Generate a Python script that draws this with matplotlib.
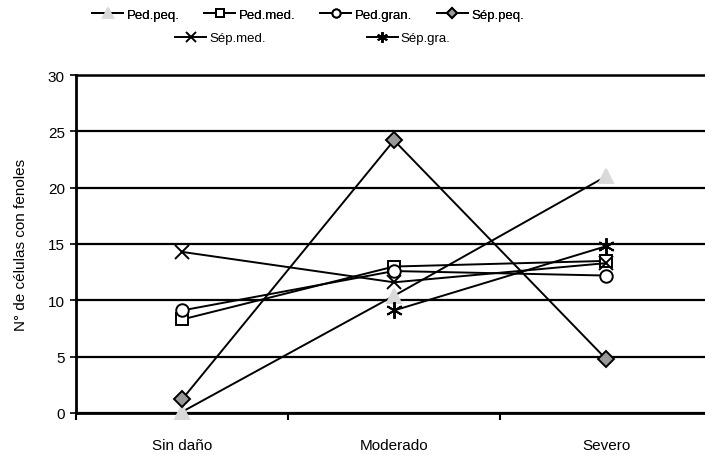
import numpy as np
import matplotlib.pyplot as plt

plt.rcParams['font.family'] = ['Liberation Sans', 'DejaVu Sans']

# datos
categorias = ["Sin daño", "Moderado", "Severo"]
ped_peq = [0.1, 10.4, 21.0]
ped_med = [8.3, 13.0, 13.5]
ped_gran = [9.1, 12.6, 12.2]
sep_peq = [1.2, 24.2, 4.8]
sep_med = [14.3, 11.6, 13.3]
sep_gra = [np.nan, 9.1, 14.8]

series = [
    ("Ped.peq.", ped_peq, dict(marker='^', mfc='#d9d9d9', mec='#d9d9d9', ms=10)),
    ("Ped.med.", ped_med, dict(marker='s', mfc='white', mec='black', ms=9)),
    ("Ped.gran.", ped_gran, dict(marker='o', mfc='white', mec='black', ms=9)),
    ("Sép.peq.", sep_peq, dict(marker='D', mfc='#999999', mec='black', ms=8)),
    ("Sép.med.", sep_med, dict(marker='x', mfc='black', mec='black', ms=10)),
    ("Sép.gra.", sep_gra, dict(marker=(6, 2, 0), mfc='black', mec='black', ms=12)),
]

fig = plt.figure(figsize=(7.05, 4.56), dpi=100)
ax = fig.add_axes([76 / 705, 42 / 456, 636 / 705, 338 / 456])

x = np.arange(len(categorias))
handles = []
for nombre, vals, st in series:
    h, = ax.plot(x, vals, color='black', lw=1.4, mew=1.4, label=nombre,
                 clip_on=False, zorder=3, **st)
    handles.append(h)

ax.set_xlim(-0.5, 2.5)
ax.set_ylim(0, 30)
ax.set_yticks(np.arange(0, 31, 5))
ax.set_xticks(x)
ax.set_xticklabels(categorias, fontsize=11)
ax.set_xticks([-0.5, 0.5, 1.5], minor=True)
ax.tick_params(axis='x', which='major', length=0, pad=18)
ax.tick_params(axis='x', which='minor', length=5, width=1.5, direction='out')
ax.tick_params(axis='y', length=4, width=1.2, direction='out', labelsize=11, pad=4)

ax.yaxis.grid(True, color='black', lw=1.6)
ax.set_axisbelow(True)
ax.spines['right'].set_visible(False)
ax.spines['top'].set_linewidth(1.8)
ax.spines['left'].set_linewidth(2)
ax.spines['bottom'].set_linewidth(2)

ax.set_ylabel("N° de células con fenoles", fontsize=11, labelpad=14)

leg1 = fig.legend(handles[:4], [h.get_label() for h in handles[:4]], ncol=4,
                  loc='center', bbox_to_anchor=(0.437, 0.966), frameon=False,
                  fontsize=9.5, handlelength=2.35, handletextpad=0.25,
                  columnspacing=1.9, markerscale=0.65)
leg2 = fig.legend(handles[4:], [h.get_label() for h in handles[4:]], ncol=2,
                  loc='center', bbox_to_anchor=(0.444, 0.914), frameon=False,
                  fontsize=9.5, handlelength=2.35, handletextpad=0.25,
                  columnspacing=7.6, markerscale=0.65)
fig.add_artist(leg1)

fig.savefig("out.png", dpi=100)
